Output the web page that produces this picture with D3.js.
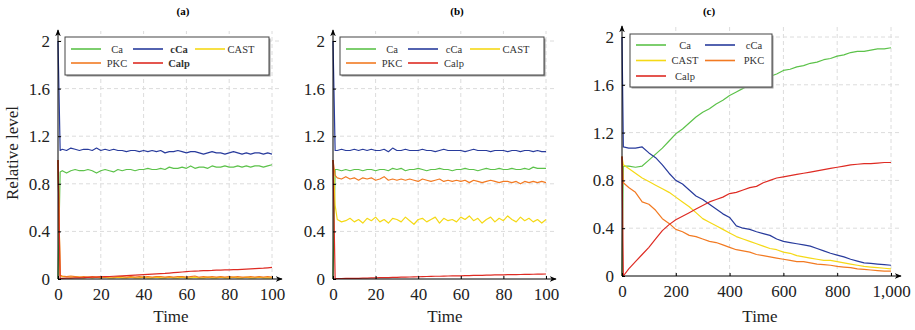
<!DOCTYPE html>
<html>
<head>
<meta charset="utf-8">
<script src="https://cdn.jsdelivr.net/npm/d3@7"></script>
<style>
  body { margin: 0; background: #fff; }
</style>
</head>
<body>
<div id="wrapper"></div>
<script>
// ---- data ----
const seriesNames = ["Ca", "cCa", "CAST", "PKC", "Calp"];
const seriesColors = ["#5cc24a", "#283b9c", "#f5d916", "#f27a22", "#de2b23"];
const yTicks = [0, 0.4, 0.8, 1.2, 1.6, 2];
const yTickLabels = ["0", "0.4", "0.8", "1.2", "1.6", "2"];
const xTicksAB = [0, 20, 40, 60, 80, 100];
const xTicksC = [0, 200, 400, 600, 800, 1000];

const timesAB = [0, 1, 2, 4, 6, 8, 10, 12, 14, 16,
  18, 20, 22, 24, 26, 28, 30, 32, 34, 36,
  38, 40, 42, 44, 46, 48, 50, 52, 54, 56,
  58, 60, 62, 64, 66, 68, 70, 72, 74, 76,
  78, 80, 82, 84, 86, 88, 90, 92, 94, 96,
  98, 100];

// panel (a)
const caA = [0, 0.90, 0.91, 0.89, 0.91, 0.92, 0.91, 0.91, 0.92, 0.91,
  0.89, 0.91, 0.92, 0.91, 0.90, 0.92, 0.91, 0.92, 0.92, 0.91,
  0.92, 0.92, 0.93, 0.92, 0.92, 0.93, 0.92, 0.94, 0.93, 0.93,
  0.94, 0.93, 0.95, 0.93, 0.94, 0.94, 0.93, 0.95, 0.94, 0.94,
  0.95, 0.94, 0.94, 0.95, 0.94, 0.95, 0.94, 0.95, 0.95, 0.94,
  0.95, 0.96];
const cCaA = [2, 1.08, 1.09, 1.08, 1.10, 1.09, 1.08, 1.09, 1.09, 1.08,
  1.10, 1.08, 1.09, 1.08, 1.09, 1.08, 1.08, 1.07, 1.08, 1.08,
  1.07, 1.08, 1.07, 1.08, 1.07, 1.08, 1.06, 1.07, 1.07, 1.08,
  1.07, 1.06, 1.07, 1.07, 1.06, 1.05, 1.06, 1.07, 1.06, 1.06,
  1.05, 1.06, 1.07, 1.06, 1.05, 1.06, 1.05, 1.06, 1.06, 1.05,
  1.06, 1.05];
const castA = [1, 0.03, 0.02, 0.02, 0.015, 0.02, 0.015, 0.01, 0.015, 0.01,
  0.015, 0.01, 0.015, 0.01, 0.01, 0.015, 0.01, 0.01, 0.015, 0.01,
  0.01, 0.015, 0.01, 0.01, 0.015, 0.01, 0.01, 0.015, 0.01, 0.01,
  0.015, 0.01, 0.01, 0.015, 0.01, 0.01, 0.015, 0.01, 0.01, 0.015,
  0.01, 0.01, 0.015, 0.01, 0.01, 0.015, 0.01, 0.01, 0.015, 0.01,
  0.01, 0.01];
const pkcA = [1, 0.03, 0.025, 0.02, 0.025, 0.02, 0.015, 0.02, 0.015, 0.02,
  0.015, 0.02, 0.015, 0.02, 0.015, 0.02, 0.02, 0.015, 0.02, 0.015,
  0.02, 0.015, 0.02, 0.015, 0.02, 0.02, 0.015, 0.02, 0.015, 0.02,
  0.02, 0.015, 0.02, 0.025, 0.015, 0.02, 0.015, 0.02, 0.015, 0.02,
  0.015, 0.02, 0.015, 0.02, 0.015, 0.015, 0.02, 0.015, 0.02, 0.015,
  0.02, 0.015];
const calpA = [1, 0.005, 0.006, 0.007, 0.008, 0.009, 0.01, 0.011, 0.013, 0.015,
  0.016, 0.018, 0.02, 0.021, 0.023, 0.025, 0.027, 0.029, 0.031, 0.033,
  0.035, 0.037, 0.039, 0.041, 0.043, 0.045, 0.047, 0.05, 0.053, 0.056,
  0.059, 0.062, 0.065, 0.067, 0.068, 0.07, 0.071, 0.072, 0.074, 0.075,
  0.076, 0.077, 0.078, 0.079, 0.081, 0.083, 0.085, 0.087, 0.089, 0.091,
  0.094, 0.097];

// panel (b)
const caB = [0, 0.92, 0.92, 0.91, 0.92, 0.91, 0.92, 0.92, 0.91, 0.92,
  0.92, 0.91, 0.92, 0.92, 0.91, 0.93, 0.92, 0.93, 0.91, 0.92,
  0.92, 0.93, 0.92, 0.91, 0.92, 0.92, 0.93, 0.92, 0.92, 0.91,
  0.92, 0.92, 0.93, 0.92, 0.92, 0.91, 0.92, 0.93, 0.92, 0.92,
  0.93, 0.92, 0.92, 0.93, 0.92, 0.92, 0.93, 0.92, 0.94, 0.93,
  0.93, 0.93];
const cCaB = [2, 1.08, 1.08, 1.09, 1.08, 1.08, 1.09, 1.08, 1.09, 1.08,
  1.09, 1.08, 1.08, 1.09, 1.07, 1.10, 1.08, 1.08, 1.09, 1.08,
  1.08, 1.08, 1.09, 1.08, 1.08, 1.07, 1.08, 1.09, 1.08, 1.08,
  1.08, 1.08, 1.07, 1.08, 1.09, 1.08, 1.08, 1.08, 1.07, 1.08,
  1.08, 1.08, 1.07, 1.08, 1.08, 1.07, 1.08, 1.08, 1.07, 1.08,
  1.07, 1.07];
const castB = [1, 0.62, 0.50, 0.48, 0.49, 0.51, 0.48, 0.50, 0.47, 0.51,
  0.49, 0.52, 0.48, 0.50, 0.47, 0.51, 0.50, 0.48, 0.52, 0.49,
  0.46, 0.50, 0.51, 0.48, 0.50, 0.52, 0.47, 0.51, 0.49, 0.50,
  0.48, 0.52, 0.50, 0.53, 0.49, 0.51, 0.47, 0.50, 0.52, 0.48,
  0.51, 0.49, 0.53, 0.50, 0.48, 0.52, 0.49, 0.51, 0.48, 0.50,
  0.47, 0.50];
const pkcB = [1, 0.87, 0.85, 0.84, 0.86, 0.84, 0.85, 0.83, 0.85, 0.84,
  0.85, 0.83, 0.84, 0.86, 0.83, 0.84, 0.83, 0.84, 0.83, 0.84,
  0.83, 0.82, 0.84, 0.83, 0.82, 0.83, 0.84, 0.82, 0.83, 0.82,
  0.83, 0.82, 0.83, 0.81, 0.83, 0.82, 0.81, 0.82, 0.83, 0.82,
  0.81, 0.82, 0.82, 0.81, 0.82, 0.80, 0.82, 0.81, 0.82, 0.81,
  0.82, 0.81];
const calpB = [1, 0.003, 0.004, 0.004, 0.005, 0.005, 0.006, 0.006, 0.007, 0.008,
  0.009, 0.01, 0.011, 0.011, 0.012, 0.013, 0.014, 0.015, 0.016, 0.017,
  0.018, 0.019, 0.02, 0.021, 0.022, 0.023, 0.023, 0.024, 0.025, 0.026,
  0.027, 0.027, 0.028, 0.029, 0.03, 0.031, 0.031, 0.032, 0.033, 0.034,
  0.034, 0.035, 0.036, 0.036, 0.037, 0.038, 0.039, 0.039, 0.04, 0.041,
  0.041, 0.042];

// panel (c)
const timesC = [0, 5, 25, 50, 75, 100, 125, 150, 175, 200,
  225, 250, 275, 300, 325, 350, 375, 400, 425, 450,
  475, 500, 525, 550, 575, 600, 625, 650, 675, 700,
  725, 750, 775, 800, 825, 850, 875, 900, 925, 950,
  975, 1000];
const caC = [0, 0.92, 0.92, 0.91, 0.92, 0.97, 1.02, 1.07, 1.13, 1.19,
  1.23, 1.28, 1.33, 1.37, 1.40, 1.44, 1.47, 1.51, 1.54, 1.57,
  1.60, 1.63, 1.65, 1.67, 1.69, 1.72, 1.73, 1.75, 1.76, 1.78,
  1.79, 1.81, 1.82, 1.84, 1.85, 1.87, 1.88, 1.88, 1.89, 1.90,
  1.90, 1.91];
const cCaC = [2, 1.08, 1.07, 1.07, 1.08, 1.03, 0.99, 0.93, 0.86, 0.80,
  0.77, 0.72, 0.67, 0.64, 0.60, 0.56, 0.52, 0.49, 0.42, 0.40,
  0.39, 0.37, 0.355, 0.34, 0.31, 0.29, 0.28, 0.27, 0.26, 0.25,
  0.23, 0.21, 0.19, 0.175, 0.16, 0.14, 0.125, 0.11, 0.105, 0.10,
  0.095, 0.09];
const castC = [1, 0.93, 0.90, 0.86, 0.82, 0.79, 0.76, 0.73, 0.70, 0.66,
  0.62, 0.58, 0.53, 0.48, 0.45, 0.42, 0.39, 0.36, 0.33, 0.31,
  0.29, 0.27, 0.25, 0.23, 0.22, 0.20, 0.19, 0.17, 0.16, 0.15,
  0.14, 0.13, 0.13, 0.12, 0.11, 0.10, 0.09, 0.08, 0.075, 0.07,
  0.065, 0.06];
const pkcC = [1, 0.78, 0.74, 0.70, 0.62, 0.60, 0.55, 0.48, 0.44, 0.39,
  0.37, 0.34, 0.33, 0.31, 0.29, 0.28, 0.26, 0.24, 0.22, 0.21,
  0.20, 0.18, 0.17, 0.16, 0.15, 0.14, 0.13, 0.12, 0.12, 0.11,
  0.10, 0.095, 0.09, 0.08, 0.075, 0.07, 0.06, 0.055, 0.05, 0.045,
  0.04, 0.04];
const calpC = [1, 0.0, 0.06, 0.12, 0.18, 0.24, 0.31, 0.38, 0.43, 0.47,
  0.50, 0.53, 0.56, 0.59, 0.62, 0.64, 0.66, 0.69, 0.70, 0.72,
  0.74, 0.75, 0.78, 0.80, 0.82, 0.83, 0.84, 0.85, 0.86, 0.87,
  0.88, 0.89, 0.90, 0.91, 0.92, 0.93, 0.935, 0.94, 0.94, 0.945,
  0.95, 0.95];

// ---- drawing ----
const serif = "'Liberation Serif', 'DejaVu Serif', serif";

const svg = d3.select("#wrapper").append("svg")
  .attr("width", 915)
  .attr("height", 330)
  .attr("font-family", serif);

const defs = svg.append("defs");
defs.append("marker")
  .attr("id", "arrow")
  .attr("viewBox", "0 0 10 10")
  .attr("refX", 9).attr("refY", 5)
  .attr("markerWidth", 7).attr("markerHeight", 7)
  .attr("markerUnits", "userSpaceOnUse")
  .attr("orient", "auto")
  .append("path")
  .attr("d", "M0,1 L10,5 L0,9 L3,5 Z")
  .attr("fill", "black");

function drawPanel(p) {
  const xScaler = d3.scaleLinear().domain([0, p.xMax]).range([p.left, p.right]);
  const yScaler = d3.scaleLinear().domain([0, 2]).range([p.bottom, p.top]);
  const g = svg.append("g");

  // grid
  g.selectAll(".vgrid").data(p.xTicks.slice(1)).join("line")
    .attr("x1", d => xScaler(d)).attr("x2", d => xScaler(d))
    .attr("y1", p.bottom).attr("y2", p.top - 10)
    .attr("stroke", "#dcdcdc").attr("stroke-dasharray", "4,3");
  g.selectAll(".hgrid").data(yTicks.slice(1)).join("line")
    .attr("x1", p.left).attr("x2", p.right + 9)
    .attr("y1", d => yScaler(d)).attr("y2", d => yScaler(d))
    .attr("stroke", "#dcdcdc").attr("stroke-dasharray", "4,3");

  // series
  p.series.forEach((values, k) => {
    const lineGenerator = d3.line()
      .x((d, i) => xScaler(p.times[i]))
      .y(d => yScaler(d));
    g.append("path")
      .attr("d", lineGenerator(values))
      .attr("fill", "none")
      .attr("stroke", seriesColors[k])
      .attr("stroke-width", 1.2)
      .attr("stroke-linejoin", "round");
  });

  // axes
  const xAxis = g.append("g")
    .attr("transform", `translate(0,${p.bottom})`)
    .call(d3.axisBottom(xScaler).tickValues(p.xTicks).tickFormat(d3.format(","))
      .tickSizeInner(-3).tickSizeOuter(0).tickPadding(9));
  const yAxis = g.append("g")
    .attr("transform", `translate(${p.left},0)`)
    .call(d3.axisLeft(yScaler).tickValues(yTicks).tickFormat((d, i) => yTickLabels[i])
      .tickSizeInner(-3).tickSizeOuter(0).tickPadding(8));
  [xAxis, yAxis].forEach(a => {
    a.select(".domain").remove();
    a.attr("font-size", 17).attr("font-family", serif);
    a.selectAll("text").attr("fill", "#222");
  });

  g.append("line")
    .attr("x1", p.left).attr("x2", p.right + 10)
    .attr("y1", p.bottom).attr("y2", p.bottom)
    .attr("stroke", "black").attr("marker-end", "url(#arrow)");
  g.append("line")
    .attr("x1", p.left).attr("x2", p.left)
    .attr("y1", p.bottom).attr("y2", p.top - 11)
    .attr("stroke", "black").attr("marker-end", "url(#arrow)");

  // titles
  g.append("text")
    .attr("x", p.titleX).attr("y", 15)
    .attr("text-anchor", "middle")
    .attr("font-size", 11).attr("font-weight", "bold")
    .text(p.title);
  g.append("text")
    .attr("x", p.timeX).attr("y", 322)
    .attr("text-anchor", "middle")
    .attr("font-size", 17).attr("fill", "#222")
    .text("Time");

  // legend
  const L = p.legend;
  g.append("rect")
    .attr("x", L.x + 1.5).attr("y", L.y + 1.5)
    .attr("width", L.w).attr("height", L.h)
    .attr("fill", "#9a9a9a");
  g.append("rect")
    .attr("x", L.x).attr("y", L.y)
    .attr("width", L.w).attr("height", L.h)
    .attr("fill", "white").attr("stroke", "#444").attr("stroke-width", 1);
  seriesNames.forEach((name, k) => {
    const col = k % L.cols;
    const row = Math.floor(k / L.cols);
    const lx = L.x + 6 + col * L.colW;
    const ly = L.y + L.row0 + row * L.rowH;
    g.append("line")
      .attr("x1", lx).attr("x2", lx + 30)
      .attr("y1", ly).attr("y2", ly)
      .attr("stroke", seriesColors[k]).attr("stroke-width", 1.6);
    g.append("text")
      .attr("x", lx + L.textOff).attr("y", ly)
      .attr("dy", "0.35em")
      .attr("text-anchor", "middle")
      .attr("font-size", 10.5)
      .attr("fill", "#333")
      .attr("font-weight", p.bold.includes(name) ? "bold" : "normal")
      .text(name);
  });
}

drawPanel({
  title: "(a)", titleX: 183, timeX: 171,
  left: 58, right: 272, bottom: 279, top: 41, xMax: 100, xTicks: xTicksAB,
  times: timesAB, series: [caA, cCaA, castA, pkcA, calpA],
  bold: ["cCa", "Calp"],
  legend: { x: 65, y: 37, w: 204, h: 38, cols: 3, colW: 62, row0: 12, rowH: 14, textOff: 46 }
});
drawPanel({
  title: "(b)", titleX: 457, timeX: 445,
  left: 333, right: 546, bottom: 279, top: 41, xMax: 100, xTicks: xTicksAB,
  times: timesAB, series: [caB, cCaB, castB, pkcB, calpB],
  bold: [],
  legend: { x: 340, y: 37, w: 204, h: 38, cols: 3, colW: 62, row0: 12, rowH: 14, textOff: 46 }
});
drawPanel({
  title: "(c)", titleX: 709, timeX: 760,
  left: 622, right: 891, bottom: 276, top: 37, xMax: 1000, xTicks: xTicksC,
  times: timesC, series: [caC, cCaC, castC, pkcC, calpC],
  bold: [],
  legend: { x: 630, y: 34, w: 142, h: 53, cols: 2, colW: 69, row0: 11, rowH: 15.5, textOff: 49 }
});

svg.append("text")
  .attr("transform", "translate(18,153) rotate(-90)")
  .attr("text-anchor", "middle")
  .attr("font-size", 17).attr("fill", "#222")
  .text("Relative level");
</script>
</body>
</html>
